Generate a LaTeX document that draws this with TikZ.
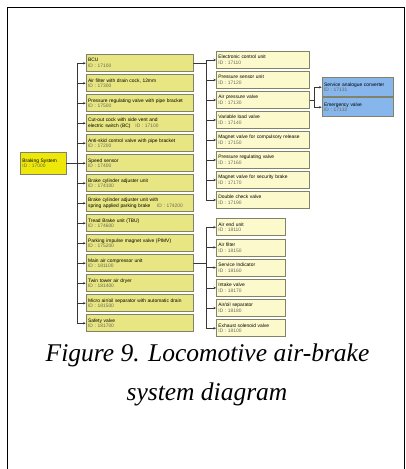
\documentclass[tikz,border=0pt]{standalone}
\usepackage{fontspec}
\setmainfont{Liberation Serif}
\newfontfamily\boxfont{Liberation Sans}
\usepackage{tikz}
\usetikzlibrary{arrows.meta}
\usepackage{xcolor}

\definecolor{rootfill}{RGB}{238,232,10}
\definecolor{partfill}{RGB}{232,230,130}
\definecolor{subfill}{RGB}{252,250,205}
\definecolor{valvefill}{RGB}{135,182,236}
\definecolor{boxline}{RGB}{130,130,105}
\definecolor{idgray}{RGB}{105,105,90}
\definecolor{linkcol}{RGB}{55,55,55}
\newcommand{\partid}[1]{{\color{idgray}#1}}

\begin{document}
\begin{tikzpicture}[x=1pt,y=-1pt,line cap=round,
  boxbase/.style={draw=boxline,line width=0.8pt,anchor=north west,inner xsep=2pt,inner ysep=1pt,
    align=left,font=\boxfont\fontsize{4.9}{5.9}\selectfont},
  rootbox/.style={boxbase,fill=rootfill,text width=41.7pt,minimum height=22.3pt},
  partbox/.style={boxbase,fill=partfill,text width=103.6pt,minimum height=17pt},
  subbox/.style={boxbase,fill=subfill,text width=89.3pt,minimum height=17pt},
  smallbox/.style={boxbase,fill=subfill,text width=65pt,minimum height=17pt},
  valvebox/.style={boxbase,fill=valvefill,text width=67pt,minimum height=19pt},
  feed/.style={draw=linkcol,line width=0.5pt,-{Stealth[length=2.6pt,width=2.4pt]}}]
\useasboundingbox (0,0) rectangle (406,469);
% frame
\draw[line width=0.7pt] (7.3,475) -- (7.3,7.3) -- (404,7.3) -- (404,475);
% root
\node[rootbox] (root) at (20,151.7) {Braking System\\\partid{ID : 17000}};
% first level
\node[partbox] (bcu) at (85.7,54.3) {BCU\\\partid{ID : 17100}};
\node[partbox] (filter) at (85.7,74.3) {Air filter with drain cock, 12mm\\\partid{ID : 17300}};
\node[partbox] (prvalve) at (85.7,94.3) {\mbox{Pressure regulating valve with pipe bracket}\\\partid{ID : 17500}};
\node[partbox] (cutout) at (85.7,114.3) {Cut-out cock with side vent and\\electric switch (BC)\quad\partid{ID : 17100}};
\node[partbox] (antiskid) at (85.7,134.3) {\mbox{Anti-skid control valve with pipe bracket}\\\partid{ID : 17200}};
\node[partbox] (speed) at (85.7,154.3) {Speed sensor\\\partid{ID : 17400}};
\node[partbox] (bcadj) at (85.7,174.3) {Brake cylinder adjuster unit\\\partid{ID : 174100}};
\node[partbox] (bcspring) at (85.7,194.3) {Brake cylinder adjuster unit with\\\mbox{spring applied parking brake\quad\ \partid{ID : 174200}}};
\node[partbox] (tbu) at (85.7,214.3) {Tread Brake unit (TBU)\\\partid{ID : 174600}};
\node[partbox] (pimv) at (85.7,234.3) {Parking impulse magnet valve (PIMV)\\\partid{ID : 175200}};
\node[partbox] (aircomp) at (85.7,254.3) {Main air compressor unit\\\partid{ID : 181100}};
\node[partbox] (dryer) at (85.7,274.3) {Twin tower air dryer\\\partid{ID : 181400}};
\node[partbox] (micro) at (85.7,294.3) {\mbox{Micro air/oil separator with automatic drain}\\\partid{ID : 181500}};
\node[partbox] (safety) at (85.7,314.3) {Safety valve\\\partid{ID : 181700}};
% BCU parts
\node[subbox] (ecu) at (216,51) {Electronic control unit\\\partid{ID : 17110}};
\node[subbox] (psensor) at (216,71) {Pressure sensor unit\\\partid{ID : 17120}};
\node[subbox] (airpv) at (216,91) {Air pressure valve\\\partid{ID : 17130}};
\node[subbox] (varload) at (216,111) {Variable load valve\\\partid{ID : 17140}};
\node[subbox] (mvrelease) at (216,131) {\mbox{Magnet valve for compulsory release}\\\partid{ID : 17150}};
\node[subbox] (pregvalve) at (216,151) {Pressure regulating valve\\\partid{ID : 17160}};
\node[subbox] (mvsecure) at (216,171) {Magnet valve for security brake\\\partid{ID : 17170}};
\node[subbox] (dcheck) at (216,191) {Double check valve\\\partid{ID : 17190}};
% compressor parts
\node[smallbox] (airend) at (216,218.3) {Air end unit\\\partid{ID : 18110}};
\node[smallbox] (cfilter) at (216,238.5) {Air filter\\\partid{ID : 18150}};
\node[smallbox] (service) at (216,258.7) {Service Indicator\\\partid{ID : 18160}};
\node[smallbox] (intake) at (216,278.9) {Intake valve\\\partid{ID : 18170}};
\node[smallbox] (oilsep) at (216,299.1) {Air/oil separator\\\partid{ID : 18180}};
\node[smallbox] (exhaust) at (216,319.3) {Exhaust solenoid valve\\\partid{ID : 18100}};
% air pressure valve parts
\node[valvebox] (converter) at (321.7,77.3) {\mbox{Service analogue converter}\\\partid{ID : 17131}};
\node[valvebox] (emergency) at (321.7,97.3) {Emergency valve\\\partid{ID : 17132}};
% links
\draw[feed] (root.east) -- ++(10.3,0) |- (bcu.west);
\draw[feed] (root.east) -- ++(10.3,0) |- (filter.west);
\draw[feed] (root.east) -- ++(10.3,0) |- (prvalve.west);
\draw[feed] (root.east) -- ++(10.3,0) |- (cutout.west);
\draw[feed] (root.east) -- ++(10.3,0) |- (antiskid.west);
\draw[feed] (root.east) -- ++(10.3,0) |- (speed.west);
\draw[feed] (root.east) -- ++(10.3,0) |- (bcadj.west);
\draw[feed] (root.east) -- ++(10.3,0) |- (bcspring.west);
\draw[feed] (root.east) -- ++(10.3,0) |- (tbu.west);
\draw[feed] (root.east) -- ++(10.3,0) |- (pimv.west);
\draw[feed] (root.east) -- ++(10.3,0) |- (aircomp.west);
\draw[feed] (root.east) -- ++(10.3,0) |- (dryer.west);
\draw[feed] (root.east) -- ++(10.3,0) |- (micro.west);
\draw[feed] (root.east) -- ++(10.3,0) |- (safety.west);
\draw[feed] (bcu.east) -- ++(11.7,0) |- (ecu.west);
\draw[feed] (bcu.east) -- ++(11.7,0) |- (psensor.west);
\draw[feed] (bcu.east) -- ++(11.7,0) |- (airpv.west);
\draw[feed] (bcu.east) -- ++(11.7,0) |- (varload.west);
\draw[feed] (bcu.east) -- ++(11.7,0) |- (mvrelease.west);
\draw[feed] (bcu.east) -- ++(11.7,0) |- (pregvalve.west);
\draw[feed] (bcu.east) -- ++(11.7,0) |- (mvsecure.west);
\draw[feed] (bcu.east) -- ++(11.7,0) |- (dcheck.west);
\draw[feed] (aircomp.east) -- ++(11.7,0) |- (airend.west);
\draw[feed] (aircomp.east) -- ++(11.7,0) |- (cfilter.west);
\draw[feed] (aircomp.east) -- ++(11.7,0) |- (service.west);
\draw[feed] (aircomp.east) -- ++(11.7,0) |- (intake.west);
\draw[feed] (aircomp.east) -- ++(11.7,0) |- (oilsep.west);
\draw[feed] (aircomp.east) -- ++(11.7,0) |- (exhaust.west);
\draw[feed] (airpv.east) -- ++(4,0) |- (converter.west);
\draw[feed] (airpv.east) -- ++(4,0) |- (emergency.west);
% caption
\node[font=\fontsize{25.5}{30}\selectfont\itshape,anchor=base] (cap1) at (207.5,361.7) {Figure 9. Locomotive air-brake};
\node[font=\fontsize{25.5}{30}\selectfont\itshape,anchor=base] (cap2) at (207,400) {system diagram};
\end{tikzpicture}
\end{document}
